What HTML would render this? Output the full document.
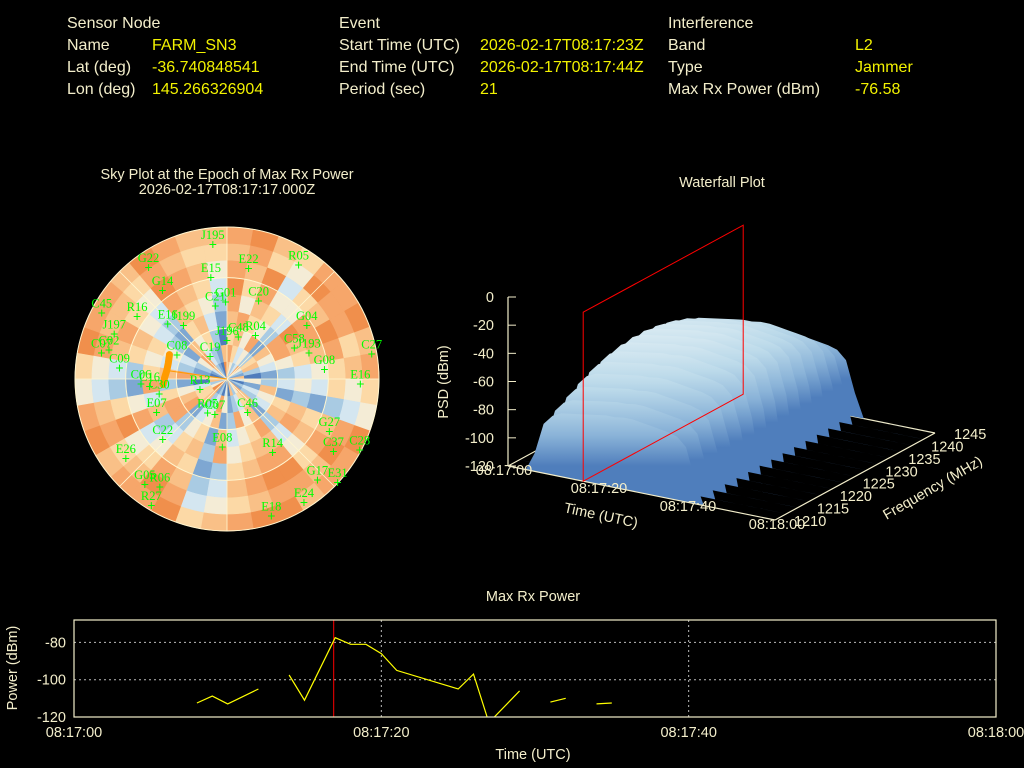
<!DOCTYPE html>
<html><head><meta charset="utf-8">
<style>
html,body{margin:0;padding:0;background:#000;width:1024px;height:768px;overflow:hidden;font-family:"Liberation Sans",sans-serif;}
.t{position:absolute;font-size:16px;white-space:nowrap;line-height:16px;}
.k{color:#f3eecb;} .v{color:#f2f200;}
svg{position:absolute;left:0;top:0;}
</style></head><body>
<div>
<div class="t k" style="left:67px;top:16px">Sensor Node</div>
<div class="t k" style="left:67px;top:38px">Name</div>
<div class="t v" style="left:152px;top:38px">FARM_SN3</div>
<div class="t k" style="left:67px;top:60px">Lat (deg)</div>
<div class="t v" style="left:152px;top:60px">-36.740848541</div>
<div class="t k" style="left:67px;top:82px">Lon (deg)</div>
<div class="t v" style="left:152px;top:82px">145.266326904</div>
</div>
<div>
<div class="t k" style="left:339px;top:16px">Event</div>
<div class="t k" style="left:339px;top:38px">Start Time (UTC)</div>
<div class="t v" style="left:480px;top:38px">2026-02-17T08:17:23Z</div>
<div class="t k" style="left:339px;top:60px">End Time (UTC)</div>
<div class="t v" style="left:480px;top:60px">2026-02-17T08:17:44Z</div>
<div class="t k" style="left:339px;top:82px">Period (sec)</div>
<div class="t v" style="left:480px;top:82px">21</div>
</div>
<div>
<div class="t k" style="left:668px;top:16px">Interference</div>
<div class="t k" style="left:668px;top:38px">Band</div>
<div class="t v" style="left:855px;top:38px">L2</div>
<div class="t k" style="left:668px;top:60px">Type</div>
<div class="t v" style="left:855px;top:60px">Jammer</div>
<div class="t k" style="left:668px;top:82px">Max Rx Power (dBm)</div>
<div class="t v" style="left:855px;top:82px">-76.58</div>
</div>

<svg id="sv" width="1024" height="768" font-family="Liberation Sans, sans-serif">
<text x="227" y="179" fill="#f3eecb" font-size="14.5" text-anchor="middle">Sky Plot at the Epoch of Max Rx Power</text>
<text x="227" y="194" fill="#f3eecb" font-size="14.5" text-anchor="middle">2026-02-17T08:17:17.000Z</text>
<text x="722" y="187" fill="#f3eecb" font-size="14.5" text-anchor="middle">Waterfall Plot</text>
<text x="533" y="601" fill="#f3eecb" font-size="14.5" text-anchor="middle">Max Rx Power</text>
<g id="sky"></g><g id="wf"></g><g id="pw"></g>
</svg>
<script>
// ---------- Max Rx Power data ----------
const pwTimes=[8,9,10,12,null,14,15,17,18,19,20,21,25,26,27,29,null,31,32,null,34,35];
const pwValues=[-112.5,-108.8,-113,-105,null,-97.5,-111,-77.5,-81,-81,-86,-95,-105,-97,-123,-106,null,-112,-110,null,-113,-112.5];
const pwYTicks=[-80,-100,-120];
const pwXTicks=[0,20,40,60];
const pwXTickLabels=["08:17:00","08:17:20","08:17:40","08:18:00"];
const pwMarkerTime=16.9;
// ---------- Waterfall data ----------
const wfTimes=[0,2,4,6,8,10,12,14,16,18,20,22,24,26,28,30,32,34,36,38,40,42,44,46,48,50,52,54,56,58,60];
const wfTimePeak=[-130,-130,-130,-82,-60,-53,-50,-49,-48,-47,-46,-45,-45,-44,-44,-45,-46,-47,-48,-50,-56,-78,-130,-130,-130,-130,-130,-130,-130,-130,-130];
const wfFreqs=[1210,1212.5,1215,1217.5,1220,1222.5,1225,1227.5,1230,1232.5,1235,1237.5,1240,1242.5,1245];
const wfFreqOffset=[-25,-20,-15,-10,-6,-3,-1,0,0,-1,-3,-6,-10,-18,-25];
const wfZTicks=[0,-20,-40,-60,-80,-100,-120];
const wfTTicks=[0,20,40,60];
const wfTTickLabels=["08:17:00","08:17:20","08:17:40","08:18:00"];
const wfFTicks=[1210,1215,1220,1225,1230,1235,1240,1245];
const wfMarkerTime=16.9;
// ---------- Sky plot data ----------
const skyRings=[ // el 0-10 ... 80-90, 36 sectors each (az 0..350), level 0 (blue) .. 9 (orange)
"897688978659887998769887985698879877",
"786598867548978876548976874587768766",
"879467986637869987437865963478659875",
"968558875426758876326754852367548764",
"857649764537847765837643748656437653",
"786538853426738654726538863745326742",
"675827542375427583275428752834275631",
"864536731524376432584376641723584327",
"753485327413285371413289537612473219"];
const satNames=["J195","R05","E22","G22","E15","G14","C20","G01","C21","C45","R16","E16","J199","G04","R04","C48","J196","C58","J193","C27","C19","C08","G08","E16","C09","C07","C02","J197","C06","C16","C30","R13","E07","R05","C07","C46","C22","G27","E08","R14","C37","C28","E26","G17","E31","G05","R06","R27","E24","E18"];
const satAz=[354,32,11,325,351,324,22,359,351,298,305,313,321,56,33,15,0,65,72,80,324,296,84,92,276,282,284,292,267,265,258,250,245,210,199,148,227,117,184,148,124,118,232,138,133,218,212,211,148,162];
const satEl=[9.5,10,23,9,29,25,40,44,46,6,25,42,49,33,59,64,67,46,39,3,73,57,32,11,26,14,18,18,39,44,49,73,44,67,68,67,38,22,50,39,14,1,14,10,0.5,11,15,3,4,5];
const trackAz=[293,285,278,271,265];
const trackEl=[53,54,54,53,52];

const NS='http://www.w3.org/2000/svg';
function mk(tag,attrs,parent){const e=document.createElementNS(NS,tag);for(const k in attrs)e.setAttribute(k,attrs[k]);parent.appendChild(e);return e;}

// ===== Max Rx Power =====
(function(){
const g=document.getElementById('pw');
const X0=74,X1=996,Y0=620,Y1=717,vmin=-120,vmax=-68;
const xs=t=>X0+(t/60)*(X1-X0);
const ys=v=>Y1-(v-vmin)/(vmax-vmin)*(Y1-Y0);
pwYTicks.forEach(v=>{
 if(v>vmin){const l=mk('line',{x1:X0,x2:X1,y1:ys(v),y2:ys(v),stroke:'#bbbbbb','stroke-dasharray':'2,3','stroke-width':1},g);
 }
 const t=mk('text',{x:X0-8,y:ys(v)+5,fill:'#f3eecb','font-size':14.5,'text-anchor':'end'},g);t.textContent=v;
 
});
pwXTicks.forEach((s,i)=>{
 if(s>0&&s<60){const l=mk('line',{x1:xs(s),x2:xs(s),y1:Y0,y2:Y1,stroke:'#bbbbbb','stroke-dasharray':'2,3','stroke-width':1},g);
 }
 const t=mk('text',{x:xs(s),y:737,fill:'#f3eecb','font-size':14.5,'text-anchor':'middle'},g);t.textContent=pwXTickLabels[i];
 
});
const cp=mk('clipPath',{id:'pwclip'},g);mk('rect',{x:X0,y:Y0,width:X1-X0,height:Y1-Y0},cp);
const m=mk('line',{x1:xs(pwMarkerTime),x2:xs(pwMarkerTime),y1:Y0,y2:Y1,stroke:'#ff0000','stroke-width':1},g);

let d='',pen=false;
pwTimes.forEach((t,i)=>{if(t===null||pwValues[i]===null){pen=false;return;}d+=(pen?'L':'M')+xs(t).toFixed(1)+' '+ys(pwValues[i]).toFixed(1)+' ';pen=true;});
const p=mk('path',{d:d,fill:'none',stroke:'#ffff00','stroke-width':1.2,'clip-path':'url(#pwclip)'},g);

const b=mk('rect',{x:X0,y:Y0,width:X1-X0,height:Y1-Y0,fill:'none',stroke:'#f3eecb','stroke-width':1.2},g);

const xt=mk('text',{x:533,y:759,fill:'#f3eecb','font-size':14.5,'text-anchor':'middle'},g);xt.textContent='Time (UTC)';

const yt=mk('text',{x:17,y:668,fill:'#f3eecb','font-size':14.5,'text-anchor':'middle',transform:'rotate(-90 17 668)'},g);yt.textContent='Power (dBm)';

})();

// ===== Waterfall 3D =====
(function(){
const g=document.getElementById('wf');
const O=[508,466],T=[267,54],F=[160,-87],ZH=169;
const P=(t,f,z)=>{const a=t/60,b=(f-1210)/35,c=(Math.max(z,-120)+120)/120;return [O[0]+a*T[0]+b*F[0],O[1]+a*T[1]+b*F[1]-c*ZH];};
const ax=(p,q,nm)=>{const l=mk('line',{x1:p[0],y1:p[1],x2:q[0],y2:q[1],stroke:'#f3eecb','stroke-width':1.2},g);};
ax(P(0,1245,-120),P(60,1245,-120),'back-time-axis');
ax(P(0,1210,-120),P(0,1245,-120),'left-freq-axis');
const sg=mk('g',{},g);
for(let fi=wfFreqs.length-1;fi>=0;fi--){
 const f=wfFreqs[fi];
 const top=P(0,f,0)[1],bot=P(0,f,-120)[1];
 const gid='wg'+fi;
 const lg=mk('linearGradient',{id:gid,gradientUnits:'userSpaceOnUse',x1:0,x2:0,y1:top,y2:bot},sg);
 [[0,'#f7edcf'],[0.36,'#f3eedb'],[0.46,'#dcecf3'],[0.62,'#bcdaea'],[0.82,'#8ab3d8'],[1,'#4f7ebc']].forEach(s=>mk('stop',{offset:s[0],'stop-color':s[1]},lg));
 let pts=[];
 wfTimes.forEach((t,i)=>{const z=wfTimePeak[i]+wfFreqOffset[fi];pts.push(P(t,f,z));});
 let d='M'+P(wfTimes[0],f,-120).join(' ');
 pts.forEach(p=>d+=' L'+p[0].toFixed(1)+' '+p[1].toFixed(1));
 d+=' L'+P(60,f,-120).join(' ')+'Z';
 const r=mk('path',{d:d,fill:'url(#'+gid+')',stroke:'none'},sg);
 
}
ax(P(0,1210,-120),P(60,1210,-120),'time-axis');
ax(P(60,1210,-120),P(60,1245,-120),'freq-axis');
ax(P(0,1210,-120),P(0,1210,0),'psd-axis');
wfZTicks.forEach(v=>{const p=P(0,1210,v);mk('line',{x1:p[0],y1:p[1],x2:p[0]+8,y2:p[1],stroke:'#f3eecb'},g);
 const t=mk('text',{x:p[0]-14,y:p[1]+5,fill:'#f3eecb','font-size':14.5,'text-anchor':'end'},g);t.textContent=v;
 });
wfTTicks.forEach((s,i)=>{const p=P(s,1210,-120);
 const t=mk('text',{x:p[0]+(i==0?-4:2),y:p[1]+9,fill:'#f3eecb','font-size':14.5,'text-anchor':'middle'},g);t.textContent=wfTTickLabels[i];
 });
wfFTicks.forEach(f=>{const p=P(60,f,-120);
 const t=mk('text',{x:p[0]+19,y:p[1]+6,fill:'#f3eecb','font-size':14.5},g);t.textContent=f;
 });
const a=P(wfMarkerTime,1210,-120),b=P(wfMarkerTime,1245,-120),c=P(wfMarkerTime,1245,0),d2=P(wfMarkerTime,1210,0);
const rp=mk('polygon',{points:[a,b,c,d2].map(p=>p.join(',')).join(' '),fill:'none',stroke:'#ff0000','stroke-width':1},g);

const tt=mk('text',{x:600,y:520,fill:'#f3eecb','font-size':14.5,'text-anchor':'middle',transform:'rotate(12 600 520)'},g);tt.textContent='Time (UTC)';

const ft=mk('text',{x:935,y:492,fill:'#f3eecb','font-size':14.5,'text-anchor':'middle',transform:'rotate(-30 935 492)'},g);ft.textContent='Frequency (MHz)';

const zt=mk('text',{x:448,y:382,fill:'#f3eecb','font-size':14.5,'text-anchor':'middle',transform:'rotate(-90 448 382)'},g);zt.textContent='PSD (dBm)';

})();

// ===== Sky plot =====
(function(){
const g=document.getElementById('sky');
const CX=227,CY=379,R=152;
const pol=(az,el)=>{const r=R*(1-el/90),a=az*Math.PI/180;return [CX+r*Math.sin(a),CY-r*Math.cos(a)];};
const cols=['#2f4f9c','#4f7cbc','#7ea7d2','#a9cbe3','#d4e6f0','#f4ecd6','#fcd9a6','#f9c087','#f6a66a','#f08f4c'];
const hg=mk('g',{},g);
skyRings.forEach((row,ri)=>{
 for(let s=0;s<36;s++){
  const lv=parseInt(row.charAt(s)||'6');
  const e0=ri*10,e1=ri*10+10,a0=s*10,a1=s*10+10;
  const p1=pol(a0,e0),p2=pol(a1,e0),p3=pol(a1,e1),p4=pol(a0,e1);
  const r0=R*(1-e0/90),r1=R*(1-e1/90);
  const d='M'+p1.join(' ')+' A'+r0+' '+r0+' 0 0 1 '+p2.join(' ')+' L'+p3.join(' ')+(r1>0.5?' A'+r1+' '+r1+' 0 0 0 '+p4.join(' '):'')+'Z';
  const c=mk('path',{d:d,fill:cols[lv],stroke:cols[lv],'stroke-width':0.6},hg);
  
 }
});
[0,30,60].forEach(el=>{const c=mk('circle',{cx:CX,cy:CY,r:R*(1-el/90),fill:'none',stroke:'#fff6d0','stroke-width':1},g);
 });
[0,45,90,135].forEach(az=>{const p=pol(az,0),q=pol(az+180,0);const l=mk('line',{x1:p[0],y1:p[1],x2:q[0],y2:q[1],stroke:'#fff6d0','stroke-width':0.8},g);
 });
let td='';trackAz.forEach((a,i)=>{const p=pol(a,trackEl[i]);td+=(i?'L':'M')+p.join(' ')+' ';});
const tr=mk('path',{d:td,fill:'none',stroke:'#ff9a00','stroke-width':7,'stroke-linecap':'round'},g);

const tp=pol(trackAz[2],trackEl[2]);mk('line',{x1:tp[0],y1:tp[1],x2:CX,y2:CY,stroke:'#ff9a00','stroke-width':1},g);
satNames.forEach((n,i)=>{
 const p=pol(satAz[i],satEl[i]);
 const pl=mk('text',{x:p[0],y:p[1]+5,fill:'#00ff00','font-size':14,'text-anchor':'middle','font-family':'Liberation Sans, sans-serif'},g);pl.textContent='+';
 
 const t=mk('text',{x:p[0],y:p[1]-5,fill:'#00ff00','font-size':12.5,'text-anchor':'middle','font-family':'Liberation Serif, serif'},g);t.textContent=n;
 
});
})();
</script>
</body></html>
